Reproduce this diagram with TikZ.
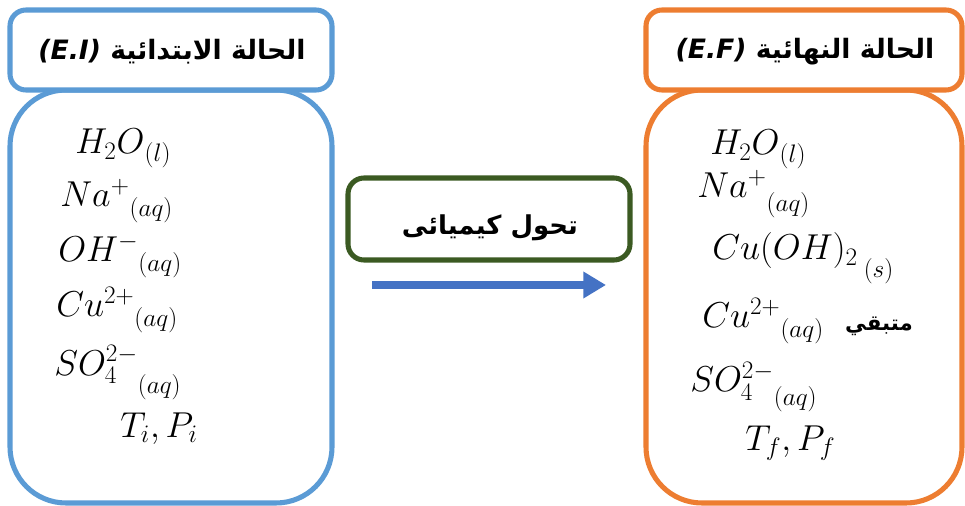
\documentclass[tikz,border=0pt]{standalone}
\usepackage{fix-cm}
\usepackage{fontspec}
\usetikzlibrary{arrows.meta}
\TeXXeTstate=1
\newfontfamily\arabicfont[Script=Arabic]{DejaVu Sans}
\definecolor{boxblue}{HTML}{5B9BD5}
\definecolor{boxorange}{HTML}{ED7D31}
\definecolor{boxgreen}{HTML}{3B5A22}
\definecolor{arrowblue}{HTML}{4472C4}
\tikzset{
  mainbox/.style={line width=3.8pt, rounded corners=42pt, fill=white},
  titlebox/.style={line width=3.8pt, rounded corners=12pt, fill=white},
  species/.style={anchor=base west, inner sep=0pt, font=\fontsize{27}{30}\selectfont},
  titletext/.style={inner sep=0pt, font=\arabicfont\bfseries\fontsize{20}{24}\selectfont},
}
\newcommand{\phase}[2]{\raisebox{-#1}{\fontsize{19}{22}\selectfont$#2$}}
\begin{document}
\begin{tikzpicture}[x=0.75pt,y=-0.75pt]
\useasboundingbox (0,0) rectangle (965,506);
% left state
\draw[mainbox, draw=boxblue] (10,90) rectangle (332,503);
\draw[titlebox, draw=boxblue] (10,10) rectangle (332,90);
\node[titletext] (titleI) at (172,52) {{\itshape (E.I)}\ \beginR الحالة الابتدائية\endR};
\node[species] (h2oI) at (75,154) {$H_2O$\phase{6pt}{(l)}};
\node[species] (naI) at (60,207) {$Na^{+}$\phase{7.5pt}{(aq)}};
\node[species] (ohI) at (58,262) {$OH^{-}$\phase{7.5pt}{(aq)}};
\node[species] (cuI) at (56,317) {$Cu^{2+}$\phase{7.5pt}{(aq)}};
\node[species] (so4I) at (54,375) {$SO_4^{2-}$\phase{13.5pt}{(aq)}};
\node[species] (tpI) at (120,437) {$T_i,P_i$};
% right state
\draw[mainbox, draw=boxorange] (646,90) rectangle (962,503);
\draw[titlebox, draw=boxorange] (646,10) rectangle (962,90);
\node[titletext] (titleF) at (805,52) {{\itshape (E.F)}\ \beginR الحالة النهائية\endR};
\node[species] (h2oF) at (710,155) {$H_2O$\phase{6pt}{(l)}};
\node[species] (naF) at (697,198) {$Na^{+}$\phase{10pt}{(aq)}};
\node[species] (cuohF) at (712,260) {$Cu(OH)_2$\,\phase{13pt}{(s)}};
\node[species] (cuF) at (702,328) {$Cu^{2+}$\phase{7.5pt}{(aq)}};
\node[anchor=base east, inner sep=0pt, font=\arabicfont\bfseries\fontsize{16}{18}\selectfont] (restF) at (913,330) {\beginR متبقي\endR};
\node[species] (so4F) at (690,392) {$SO_4^{2-}$\phase{10pt}{(aq)}};
\node[species] (tpF) at (745,450) {$T_f,P_f$};
% transformation
\draw[titlebox, draw=boxgreen] (348,178) rectangle (630,260);
\node[titletext, font=\arabicfont\bfseries\fontsize{19.5}{22}\selectfont] (trans) at (490,228) {\beginR تحول كيميائى\endR};
\coordinate (arrS) at (372,285);
\coordinate (arrE) at (606,285);
\draw[arrowblue, line width=6pt, -{Triangle[length=17pt,width=19pt]}] (arrS) -- (arrE);
\end{tikzpicture}
\end{document}
